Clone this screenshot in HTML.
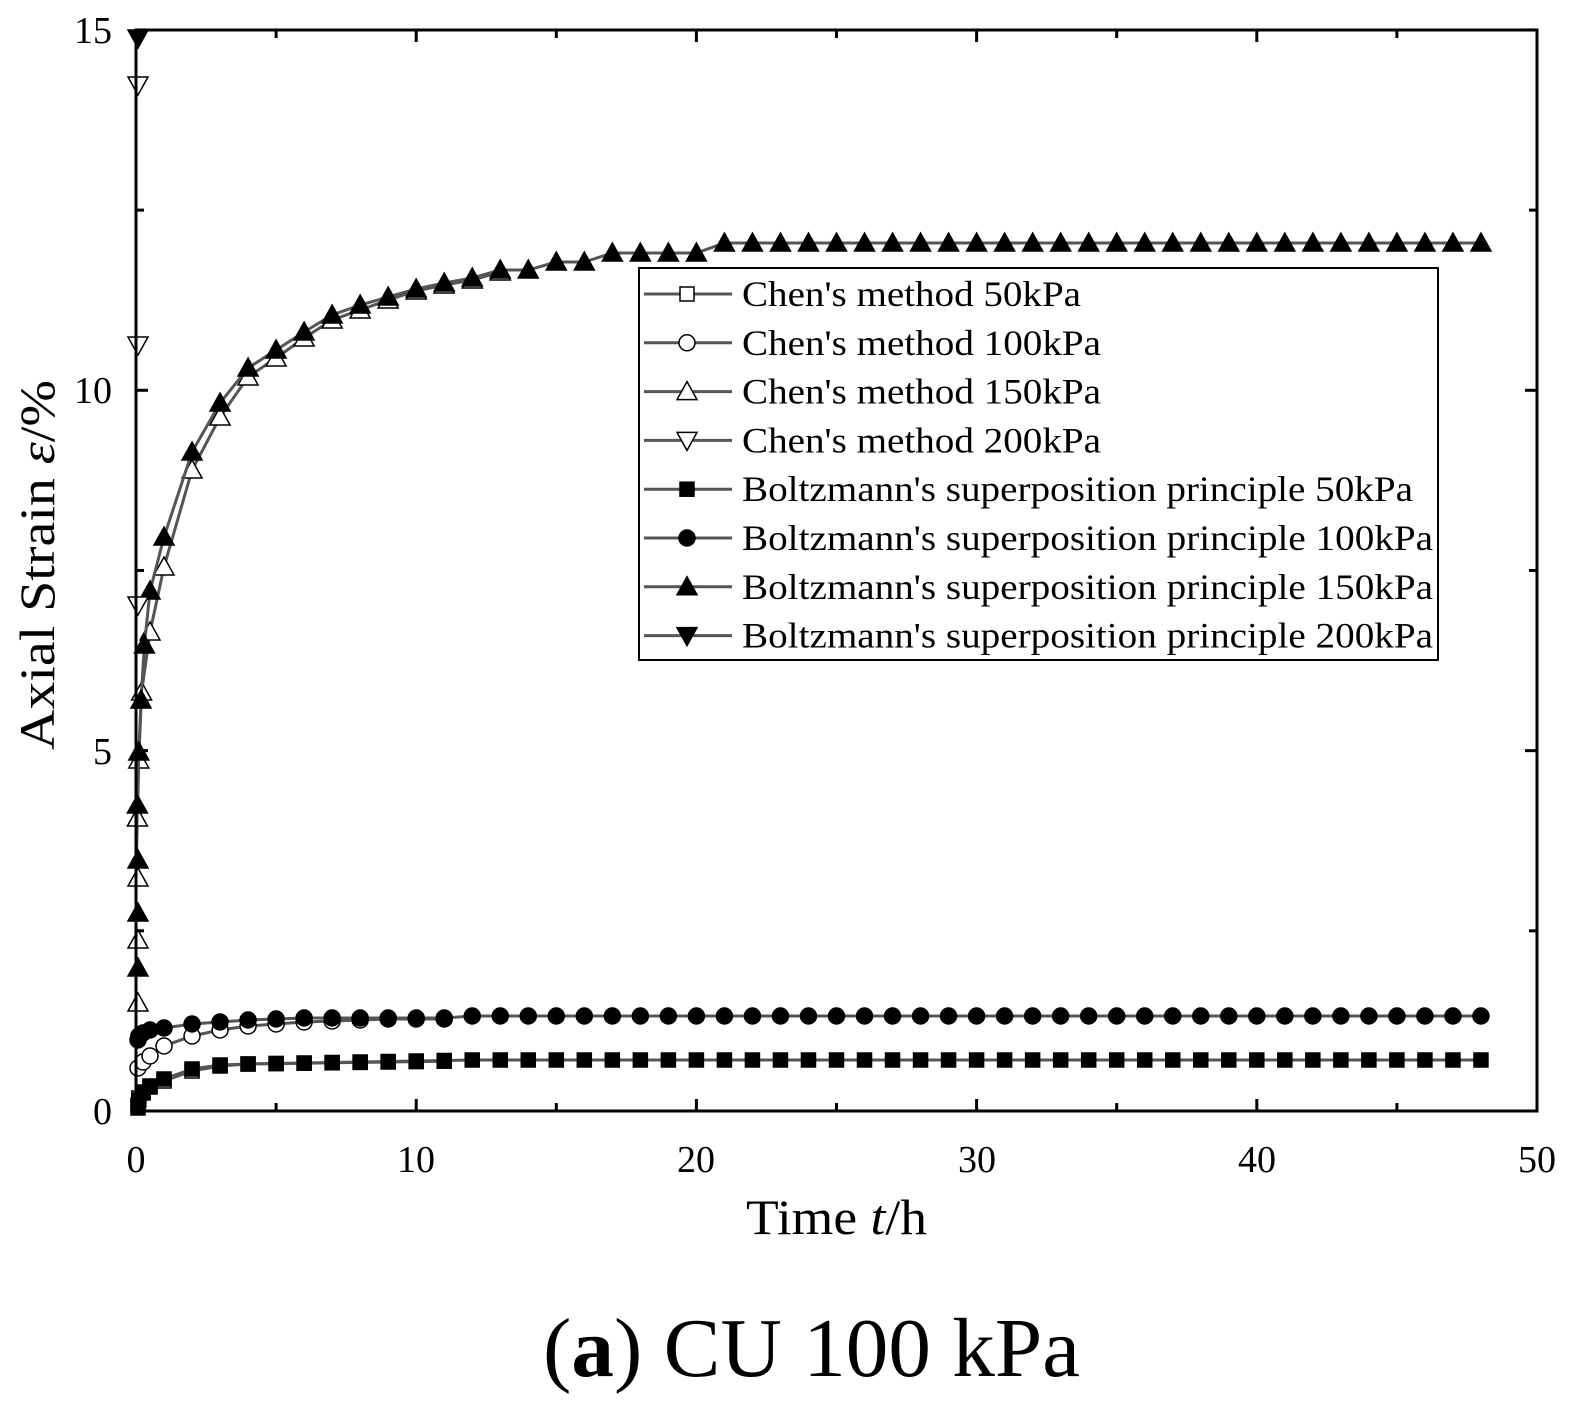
<!DOCTYPE html>
<html><head><meta charset="utf-8"><style>
html,body{margin:0;padding:0;background:#fff;}
svg{display:block;font-family:"Liberation Serif",serif;}
</style></head><body>
<svg id="s" width="1588" height="1424" xmlns="http://www.w3.org/2000/svg">
<rect width="1588" height="1424" fill="#fff"/>
<g id="data"></g>
<rect x="136" y="30" width="1401" height="1081" fill="none" stroke="#000" stroke-width="3"/>
<g id="ticks" stroke="#000" stroke-width="3"></g>
<g font-size="38" fill="#000">
<text x="136" y="1172" text-anchor="middle">0</text>
<text x="416" y="1172" text-anchor="middle">10</text>
<text x="696" y="1172" text-anchor="middle">20</text>
<text x="977" y="1172" text-anchor="middle">30</text>
<text x="1257" y="1172" text-anchor="middle">40</text>
<text x="1537" y="1172" text-anchor="middle">50</text>
<text x="112" y="1124" text-anchor="end">0</text>
<text x="112" y="764" text-anchor="end">5</text>
<text x="112" y="403" text-anchor="end">10</text>
<text x="112" y="43" text-anchor="end">15</text>
</g>
<text x="746" y="1234" font-size="50" textLength="181" lengthAdjust="spacingAndGlyphs">Time <tspan font-style="italic">t</tspan>/h</text>
<text transform="translate(54,750) rotate(-90)" font-size="50" textLength="370" lengthAdjust="spacingAndGlyphs">Axial Strain <tspan font-style="italic">ε</tspan>/%</text>
<text x="543" y="1376" font-size="84" textLength="537" lengthAdjust="spacingAndGlyphs">(<tspan font-weight="bold">a</tspan>) CU 100 kPa</text>
<rect x="639" y="268" width="799" height="392" fill="#fff" stroke="#000" stroke-width="2"/>
<g id="leg" font-size="36" fill="#000"></g>
</svg>
<script>
const NS="http://www.w3.org/2000/svg";
const X=t=>136+28.02*t;
function el(p,tag,a){const e=document.createElementNS(NS,tag);for(const k in a)e.setAttribute(k,a[k]);p.appendChild(e);return e;}
const D=document.getElementById('data');
function marker(p,type,fill,x,y){
 const f=fill?'#000':'#fff';
 if(type=='sq')el(p,'rect',{x:x-7,y:y-7,width:14,height:14,fill:f,stroke:'#000','stroke-width':1.5});
 else if(type=='ci')el(p,'circle',{cx:x,cy:y,r:8,fill:f,stroke:'#000','stroke-width':1.5});
 else if(type=='tu')el(p,'polygon',{points:`${x-10},${y+8} ${x+10},${y+8} ${x},${y-10}`,fill:f,stroke:'#000','stroke-width':1.5});
 else el(p,'polygon',{points:`${x-10},${y-8} ${x+10},${y-8} ${x},${y+10}`,fill:f,stroke:'#000','stroke-width':1.5});
}
function series(pts,type,fill){
 el(D,'polyline',{points:pts.map(p=>X(p[0])+','+p[1]).join(' '),fill:'none',stroke:'#555','stroke-width':3});
 pts.forEach(p=>marker(D,type,fill,X(p[0])+(p[0]==0?2:0),p[1]));
}
const ints=(a,b,f)=>{const r=[];for(let t=a;t<=b;t++)r.push([t,f(t)]);return r;};
const sqO=[[0,1105],[0.1,1098],[0.25,1092],[0.5,1087],[1,1081],[2,1071],[3,1066]].concat(ints(4,11,t=>1064-(t-4)*0.4));
const sqF=[[0,1108],[0.1,1100],[0.25,1093],[0.5,1086],[1,1079],[2,1069],[3,1065]].concat(ints(4,48,t=>Math.max(1060,1064-(t-4)*0.5)));
const ciO=[[0,1068],[0.25,1062],[0.5,1056],[1,1046],[2,1036],[3,1030],[4,1026],[5,1024],[6,1022],[7,1021],[8,1020],[9,1019],[10,1019],[11,1019]];
const ciF=[[0,1040],[0.1,1036],[0.25,1033],[0.5,1030],[1,1028],[2,1024],[3,1022],[4,1020],[5,1019]].concat(ints(6,48,t=>t<12?1018:1016));
const triF=[[0,968],[0,913],[0,860],[0.05,805],[0.1,752],[0.18,700],[0.3,645],[0.5,591],[1,537],[2,452],[3,403],[4,368],[5,350],[6,332],[7,315],[8,305],[9,297],[10,289],[11,283],[12,278],[13,270],[14,270],[15,262],[16,262],[17,253],[18,253],[19,253],[20,253]].concat(ints(21,48,()=>243));
const triO=[[0,1003],[0,940],[0,878],[0.05,818],[0.1,760],[0.2,692],[0.5,632],[1,567],[2,470],[3,417],[4,377],[5,358],[6,338],[7,320],[8,310],[9,300],[10,291],[11,285],[12,280],[13,272]];
series(sqO,'sq',false);series(sqF,'sq',true);
series(ciO,'ci',false);series(ciF,'ci',true);
series(triO,'tu',false);series(triF,'tu',true);
series([[0,605],[0,345],[0,85]],'td',false);
series([[0,38]],'td',true);
const T=document.getElementById('ticks');
for(let t=0;t<=50;t+=5){const x=X(t),l=t%10==0?12:8;el(T,'line',{x1:x,y1:1111,x2:x,y2:1111-l});el(T,'line',{x1:x,y1:30,x2:x,y2:30+l});}
for(let v=0;v<=15;v+=2.5){const y=1111-72.07*v,l=v%5==0?12:8;el(T,'line',{x1:136,y1:y,x2:136+l,y2:y});el(T,'line',{x1:1537,y1:y,x2:1537-l,y2:y});}
const L=document.getElementById('leg');
const items=[['sq',0,"Chen's method 50kPa",339],['ci',0,"Chen's method 100kPa",359],['tu',0,"Chen's method 150kPa",359],['td',0,"Chen's method 200kPa",359],
['sq',1,"Boltzmann's superposition principle 50kPa",671],['ci',1,"Boltzmann's superposition principle 100kPa",691],['tu',1,"Boltzmann's superposition principle 150kPa",691],['td',1,"Boltzmann's superposition principle 200kPa",691]];
items.forEach((it,i)=>{const y=294+48.8*i;
 el(L,'line',{x1:644,y1:y,x2:732,y2:y,stroke:'#555','stroke-width':3});
 marker(L,it[0],it[1],687,y);
 const tx=el(L,'text',{x:742,y:y+12,textLength:it[3],lengthAdjust:'spacingAndGlyphs'});tx.textContent=it[2];});
</script>
</body></html>
